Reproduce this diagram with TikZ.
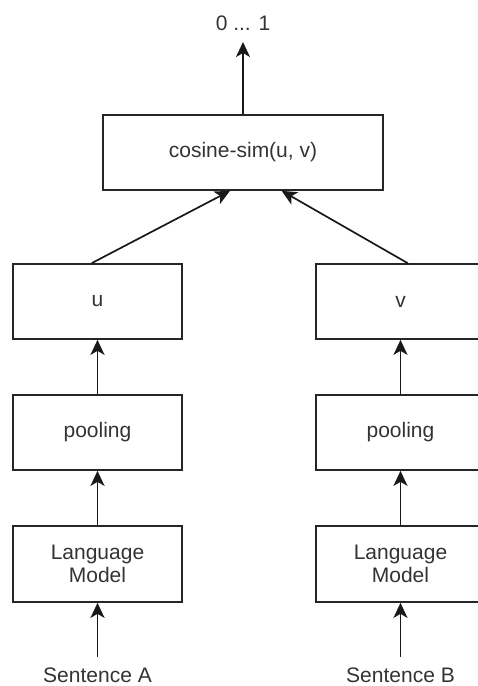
\documentclass[tikz,border=0pt]{standalone}
\usepackage{fontspec}
\setmainfont{Liberation Sans}
\usetikzlibrary{arrows.meta}
\begin{document}
\begin{tikzpicture}[x=1pt,y=1pt,
  box/.style={draw=black!85, line width=1.7pt, minimum height=75pt, inner sep=0pt, align=center, text=black!80, font=\fontsize{21}{25}\selectfont},
  lbl/.style={inner sep=0pt, text=black!80, font=\fontsize{21}{25}\selectfont},
  conn/.style={draw=black!90, line width=1.7pt, -{Stealth[length=15pt,width=14pt,inset=4pt]}}]
\useasboundingbox (0,0) rectangle (477,686);
\node[box, minimum width=280pt] (cos) at (243,533.5) {cosine-sim(u, v)};
\node[box, minimum width=169pt] (u) at (97.5,384.5) {u};
\node[box, minimum width=169pt] (v) at (400.5,384.5) {v};
\node[box, minimum width=169pt] (pl) at (97.5,253.5) {pooling};
\node[box, minimum width=169pt] (pr) at (400.5,253.5) {pooling};
\node[box, minimum width=169pt, minimum height=76pt] (ll) at (97.5,122) {Language\\[-2pt]Model};
\node[box, minimum width=169pt, minimum height=76pt] (lr) at (400.5,122) {Language\\[-2pt]Model};
\node[lbl] (sa) at (97.5,10.5) {Sentence A};
\node[lbl] (sb) at (400.5,10.5) {Sentence B};
\node[lbl] (out) at (243,663) {0 ... 1};
\coordinate (outtip) at (243,644);
\coordinate (sat) at (97.5,29);
\coordinate (sbt) at (400.5,29);
\draw[conn] (cos.north) -- (outtip);
\draw[conn] ([xshift=-5.8pt]u.north) -- ([xshift=-13pt]cos.south);
\draw[conn] ([xshift=7.2pt]v.north) -- ([xshift=38.7pt]cos.south);
\draw[conn] (pl.north) -- (u.south);
\draw[conn] (pr.north) -- (v.south);
\draw[conn] (ll.north) -- (pl.south);
\draw[conn] (lr.north) -- (pr.south);
\draw[conn] (sat) -- (ll.south);
\draw[conn] (sbt) -- (lr.south);
\end{tikzpicture}
\end{document}
